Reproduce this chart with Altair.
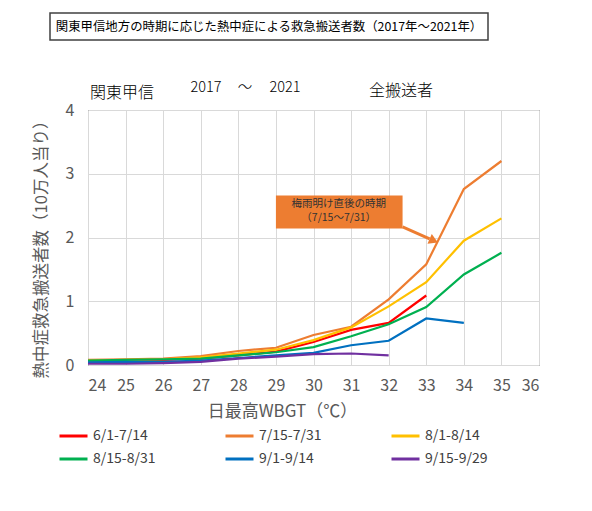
import altair as alt
import pandas as pd

# データ
wbgt = [24, 25, 26, 27, 28, 29, 30, 31, 32, 33, 34, 35]
periods = ['6/1-7/14', '7/15-7/31', '8/1-8/14', '8/15-8/31', '9/1-9/14', '9/15-9/29']
colors = ['#FF0000', '#ED7D31', '#FFC000', '#00B050', '#0070C0', '#7030A0']

v_0601 = [0.06, 0.07, 0.08, 0.10, 0.15, 0.21, 0.36, 0.55, 0.66, 1.09]
v_0715 = [0.08, 0.09, 0.10, 0.14, 0.22, 0.27, 0.47, 0.60, 1.03, 1.58, 2.76, 3.20]
v_0801 = [0.07, 0.08, 0.09, 0.12, 0.18, 0.24, 0.39, 0.59, 0.92, 1.30, 1.95, 2.30]
v_0815 = [0.07, 0.08, 0.09, 0.10, 0.15, 0.20, 0.28, 0.45, 0.64, 0.91, 1.42, 1.76]
v_0901 = [0.04, 0.05, 0.05, 0.07, 0.11, 0.15, 0.19, 0.31, 0.38, 0.73, 0.66]
v_0915 = [0.02, 0.02, 0.03, 0.05, 0.10, 0.13, 0.17, 0.18, 0.15]

series = [v_0601, v_0715, v_0801, v_0815, v_0901, v_0915]

rows = []
for p, vals in zip(periods, series):
    for x, v in zip(wbgt, vals):
        rows.append({'wbgt': x, 'value': v, 'period': p})
source = pd.DataFrame(rows)

FONT = 'Noto Sans CJK JP'

# 注釈（梅雨明け直後の時期）
note_box = pd.DataFrame({'wbgt': [29.0], 'wbgt2': [32.37], 'value': [2.66], 'value2': [2.14]})
note_text = pd.DataFrame({'wbgt': [30.67, 30.67], 'value': [2.52, 2.30],
                          'label': ['梅雨明け直後の時期', '（7/15～7/31）']})
arrow = pd.DataFrame({'wbgt': [32.37], 'wbgt2': [33.09], 'value': [2.165], 'value2': [1.98]})
arrow_head = pd.DataFrame({'wbgt': [33.2], 'value': [1.95]})

# 共通の軸
x_enc = alt.X('wbgt:Q', scale=alt.Scale(domain=[24, 36], nice=False),
              axis=alt.Axis(values=list(range(24, 37)), format='d', labelOverlap=False,
                            title='日最高WBGT（℃）',
                            titleX=194, titleY=46, titleBaseline='middle',
                            titleFontSize=17, labelPadding=12))
y_enc = alt.Y('value:Q', scale=alt.Scale(domain=[0, 4], nice=False),
              axis=alt.Axis(values=[0, 1, 2, 3, 4], format='d', labelOverlap=False,
                            title='熱中症救急搬送者数（10万人当り）',
                            titleX=-47, titleY=135, titleAngle=270, titleBaseline='middle',
                            titleFontSize=16.5, labelPadding=14))

# ライン
lines = alt.Chart(source).mark_line(strokeWidth=2.2).encode(
    x=x_enc,
    y=y_enc,
    color=alt.Color('period:N', sort=periods,
                    scale=alt.Scale(domain=periods, range=colors),
                    legend=alt.Legend(title=None, orient='none', legendX=-30, legendY=318,
                                      direction='horizontal', columns=3, gridAlign='all',
                                      columnPadding=68, rowPadding=7,
                                      symbolType='stroke', symbolSize=784,
                                      symbolStrokeWidth=3, clipHeight=16,
                                      labelFontSize=14, labelColor='#404040',
                                      labelFont=FONT)),
)

box = alt.Chart(note_box).mark_rect(color='#ED7D31').encode(
    x=x_enc, x2='wbgt2', y=y_enc, y2='value2')
box_text = alt.Chart(note_text).mark_text(fontSize=10.5, color='#333333', font=FONT).encode(
    x=x_enc, y=y_enc, text='label')
arrow_line = alt.Chart(arrow).mark_rule(color='#ED7D31', strokeWidth=3).encode(
    x=x_enc, x2='wbgt2', y=y_enc, y2='value2')
arrow_tip = alt.Chart(arrow_head).mark_point(shape='triangle-right', filled=True, opacity=1,
                                             color='#ED7D31', size=110, angle=24).encode(
    x=x_enc, y=y_enc)

# タイトル類
title = '関東甲信地方の時期に応じた熱中症による救急搬送者数（2017年～2021年）'
title_df = pd.DataFrame({'t': [title]})
title_box = alt.Chart(title_df).mark_rect(fill='white', stroke='#404040', strokeWidth=1.5).encode(
    x=alt.value(-38), x2=alt.value(400), y=alt.value(-97), y2=alt.value(-70))
title_text = alt.Chart(title_df).mark_text(fontSize=12.4, color='#000000', font=FONT).encode(
    x=alt.value(181), y=alt.value(-83), text='t')

sub_labels = ['関東甲信', '2017', '～', '2021', '全搬送者']
sub_x = [34, 118, 157, 197, 313]
sub_y = [-17, -22, -22, -22, -19]
sub_size = [16, 14.5, 14.5, 14.5, 16]
subs = []
for lab, sx, sy, fs in zip(sub_labels, sub_x, sub_y, sub_size):
    subs.append(alt.Chart(pd.DataFrame({'t': [lab]})).mark_text(
        fontSize=fs, color='#000000', font=FONT, fontWeight=300).encode(
        x=alt.value(sx), y=alt.value(sy), text='t'))

chart = alt.layer(lines, box, box_text, arrow_line, arrow_tip, title_box, title_text, *subs).properties(
    width=451, height=255,
    autosize=alt.AutoSizeParams(type='none'),
    padding={'left': 80, 'top': 102, 'right': 45, 'bottom': 138},
).configure_view(
    stroke='#404040', strokeWidth=1
).configure_axis(
    labelFont=FONT, titleFont=FONT, labelFontSize=16, labelColor='#595959',
    titleColor='#595959', titleFontWeight='normal', gridColor='#D9D9D9',
    ticks=False, domain=False
)

chart.save('out.html', embed_options={'renderer': 'svg', 'actions': False})
